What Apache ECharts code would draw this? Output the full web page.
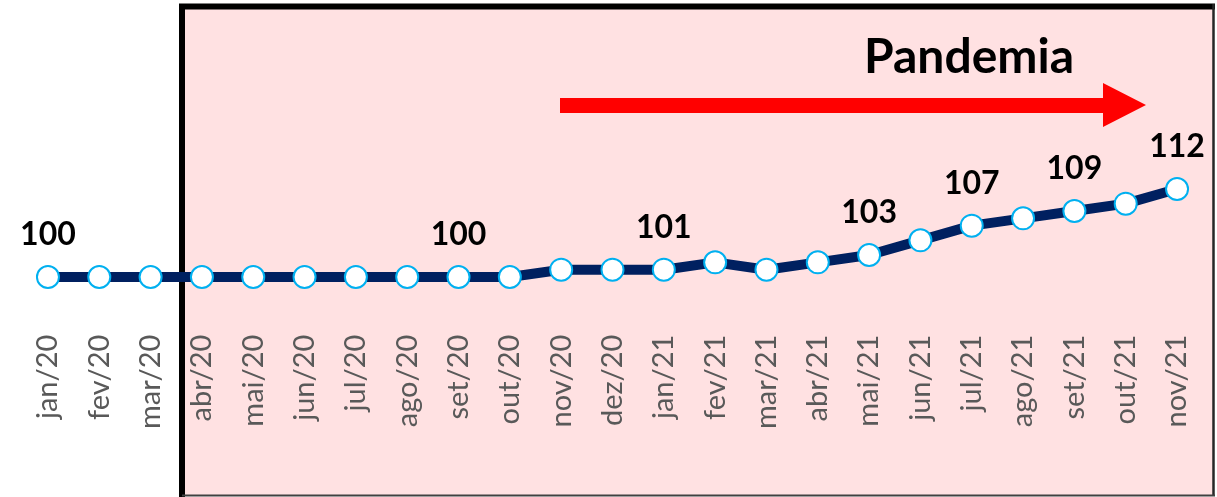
<!DOCTYPE html>
<html>
<head>
<meta charset="utf-8">
<style>
  html, body { margin: 0; padding: 0; background: #ffffff; }
  #chart { width: 1217px; height: 497px; }
</style>
<script src="https://cdn.jsdelivr.net/npm/echarts@6/dist/echarts.min.js"></script>
</head>
<body>
<div id="chart"></div>
<script>
// Monthly index, jan/20 = 100
const months = ['jan/20','fev/20','mar/20','abr/20','mai/20','jun/20','jul/20','ago/20','set/20','out/20',
                'nov/20','dez/20','jan/21','fev/21','mar/21','abr/21','mai/21','jun/21','jul/21','ago/21',
                'set/21','out/21','nov/21'];
const indexValues = [100, 100, 100, 100, 100, 100, 100, 100, 100, 100,
                     101, 101, 101, 102, 101, 102, 103, 105, 107, 108,
                     109, 110, 112];
// Months whose value is written above the point
const labelledMonths = ['jan/20', 'set/20', 'jan/21', 'mai/21', 'jul/21', 'set/21', 'nov/21'];
const bannerText = 'Pandemia';

const chart = echarts.init(document.getElementById('chart'), null, { renderer: 'canvas' });

const seriesData = indexValues.map((v, i) => ({
  value: v,
  label: { show: labelledMonths.includes(months[i]) }
}));

chart.setOption({
  animation: false,
  backgroundColor: '#ffffff',
  grid: { left: 22.3, right: 14.3, top: 130.3, bottom: 183.3, containLabel: false },
  xAxis: {
    type: 'category',
    data: months,
    boundaryGap: true,
    axisLine: { show: false },
    axisTick: { show: false },
    axisLabel: {
      interval: 0,
      rotate: 90,
      margin: 21,
      color: '#595959',
      fontFamily: 'Lato',
      fontSize: 29
    },
    splitLine: { show: false }
  },
  yAxis: {
    type: 'value',
    min: 95,
    max: 120,
    show: false,
    splitLine: { show: false }
  },
  graphic: [
    // shaded pandemic period
    { type: 'rect', z: 0, shape: { x: 182, y: 7, width: 1031, height: 489 },
      style: { fill: '#FFE1E2' } },
    { type: 'line', z: 1, shape: { x1: 182, y1: 4, x2: 182, y2: 497 },
      style: { stroke: '#000000', lineWidth: 6 } },
    { type: 'line', z: 1, shape: { x1: 179, y1: 6.5, x2: 1215, y2: 6.5 },
      style: { stroke: '#000000', lineWidth: 6 } },
    { type: 'line', z: 1, shape: { x1: 1213.5, y1: 4, x2: 1213.5, y2: 496 },
      style: { stroke: '#262626', lineWidth: 2.5 } },
    { type: 'line', z: 1, shape: { x1: 182, y1: 495.5, x2: 1215, y2: 495.5 },
      style: { stroke: '#404040', lineWidth: 2 } },
    // arrow
    { type: 'polygon', z: 1,
      shape: { points: [[560, 98], [1103, 98], [1103, 83], [1146, 105], [1103, 127], [1103, 113], [560, 113]] },
      style: { fill: '#FF0000' } },
    { type: 'text', z: 1, x: 864, y: 34,
      style: { text: bannerText, fill: '#000000', font: 'bold 48px Lato', textVerticalAlign: 'top' } }
  ],
  series: [{
    type: 'line',
    data: seriesData,
    smooth: false,
    symbol: 'circle',
    symbolSize: 22,
    lineStyle: { color: '#002060', width: 10 },
    itemStyle: { color: '#ffffff', borderColor: '#00B0F0', borderWidth: 2 },
    label: {
      position: 'top',
      distance: 14,
      color: '#000000',
      fontFamily: 'Lato',
      fontWeight: 'bold',
      fontSize: 32,
      lineHeight: 32
    },
    z: 3
  }]
});
</script>
</body>
</html>
